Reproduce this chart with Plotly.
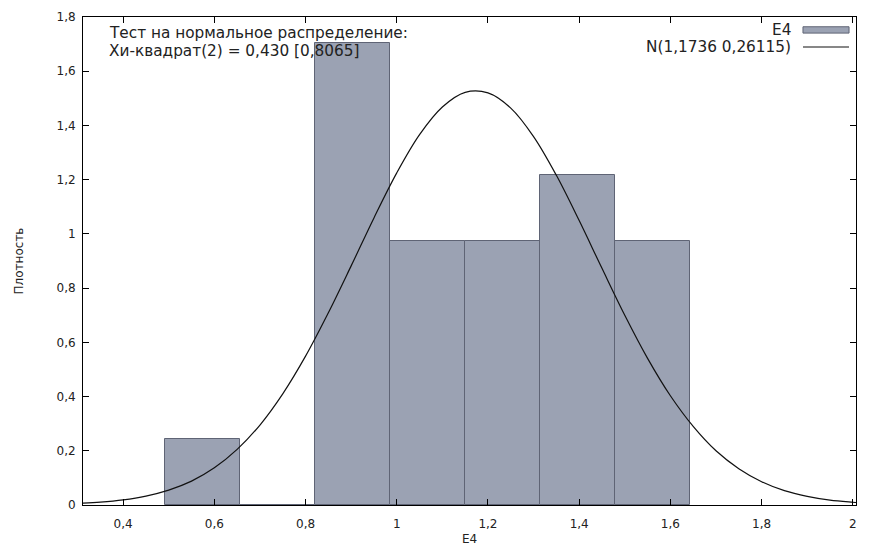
import plotly.graph_objects as go

# ---- data ----
bin_start = 0.492
bin_width = 0.1644
densities = [0.2433, 0.0, 1.703, 0.973, 0.973, 1.216, 0.973]

# normal curve N(1,1736 0,26115)
curve_x = [0.30, 0.35, 0.40, 0.45, 0.50, 0.55, 0.60, 0.65, 0.70, 0.75, 0.80, 0.85,
           0.90, 0.95, 1.00, 1.05, 1.10, 1.15, 1.20, 1.25, 1.30, 1.35, 1.40, 1.45,
           1.50, 1.55, 1.60, 1.65, 1.70, 1.75, 1.80, 1.85, 1.90, 1.95, 2.00, 2.02]
curve_y = [0.0057, 0.0106, 0.019, 0.033, 0.055, 0.088, 0.137, 0.205, 0.295, 0.410,
           0.549, 0.709, 0.882, 1.059, 1.225, 1.366, 1.468, 1.522, 1.520, 1.464,
           1.359, 1.216, 1.049, 0.873, 0.700, 0.541, 0.403, 0.290, 0.200, 0.134,
           0.086, 0.053, 0.032, 0.018, 0.0102, 0.0078]

x_ticks = [0.4, 0.6, 0.8, 1.0, 1.2, 1.4, 1.6, 1.8, 2.0]
y_ticks = [0, 0.2, 0.4, 0.6, 0.8, 1.0, 1.2, 1.4, 1.6, 1.8]

annot_lines = ["Тест на нормальное распределение:", "Хи-квадрат(2) = 0,430 [0,8065]"]
legend_labels = ["E4", "N(1,1736 0,26115)"]

centers = [bin_start + bin_width * (i + 0.5) for i in range(len(densities))]

FONT = "DejaVu Sans"
TXT = "#222222"
BAR_FILL = "#9ba2b3"
BAR_LINE = "#5f6475"

fig = go.Figure()
fig.add_trace(go.Bar(x=centers, y=densities, width=[bin_width] * len(densities),
                     marker=dict(color=BAR_FILL, line=dict(color=BAR_LINE, width=1)),
                     name=legend_labels[0], showlegend=False))
fig.add_trace(go.Scatter(x=curve_x, y=curve_y, mode="lines",
                         line=dict(color="#111111", width=1.2, shape="spline"),
                         name=legend_labels[1], showlegend=False))

axis_common = dict(showline=True, linecolor="#000000", linewidth=1, mirror="ticks",
                   ticks="inside", ticklen=6, tickcolor="#000000", showgrid=False,
                   zeroline=False, automargin=False,
                   tickfont=dict(family=FONT, size=12, color=TXT))

fig.update_xaxes(range=[0.312, 2.007], tickvals=x_ticks, ticklabelstandoff=8,
                 title=dict(text="E4", font=dict(family=FONT, size=12, color=TXT), standoff=4),
                 **axis_common)
fig.update_yaxes(range=[0, 1.8], tickvals=y_ticks, ticklabelstandoff=4,
                 title=dict(text="Плотность", font=dict(family=FONT, size=12, color=TXT), standoff=30),
                 **axis_common)

def note(text, x, y, anchor, size):
    return dict(text=text, x=x, y=y, xref="paper", yref="paper", xanchor=anchor,
                yanchor="middle", showarrow=False, font=dict(family=FONT, size=size, color=TXT))

annotations = [
    note(annot_lines[0], 0.031, 0.967, "left", 15.3),
    note(annot_lines[1], 0.031, 0.930, "left", 15.3),
    note(legend_labels[0], 0.9185, 0.973, "right", 15.3),
    note(legend_labels[1], 0.9185, 0.9385, "right", 15.3),
]
shapes = [
    dict(type="rect", xref="paper", yref="paper", x0=0.9314, x1=0.991, y0=0.980, y1=0.967,
         fillcolor=BAR_FILL, line=dict(color=BAR_LINE, width=1)),
    dict(type="line", xref="paper", yref="paper", x0=0.9314, x1=0.991, y0=0.9385, y1=0.9385,
         line=dict(color="#111111", width=1.2)),
]

fig.update_layout(width=871, height=547, margin=dict(l=83, r=15, t=17, b=42),
                  plot_bgcolor="#ffffff", paper_bgcolor="#ffffff", separators=", ",
                  bargap=0, annotations=annotations, shapes=shapes,
                  font=dict(family=FONT))

fig.write_html("out.html")
